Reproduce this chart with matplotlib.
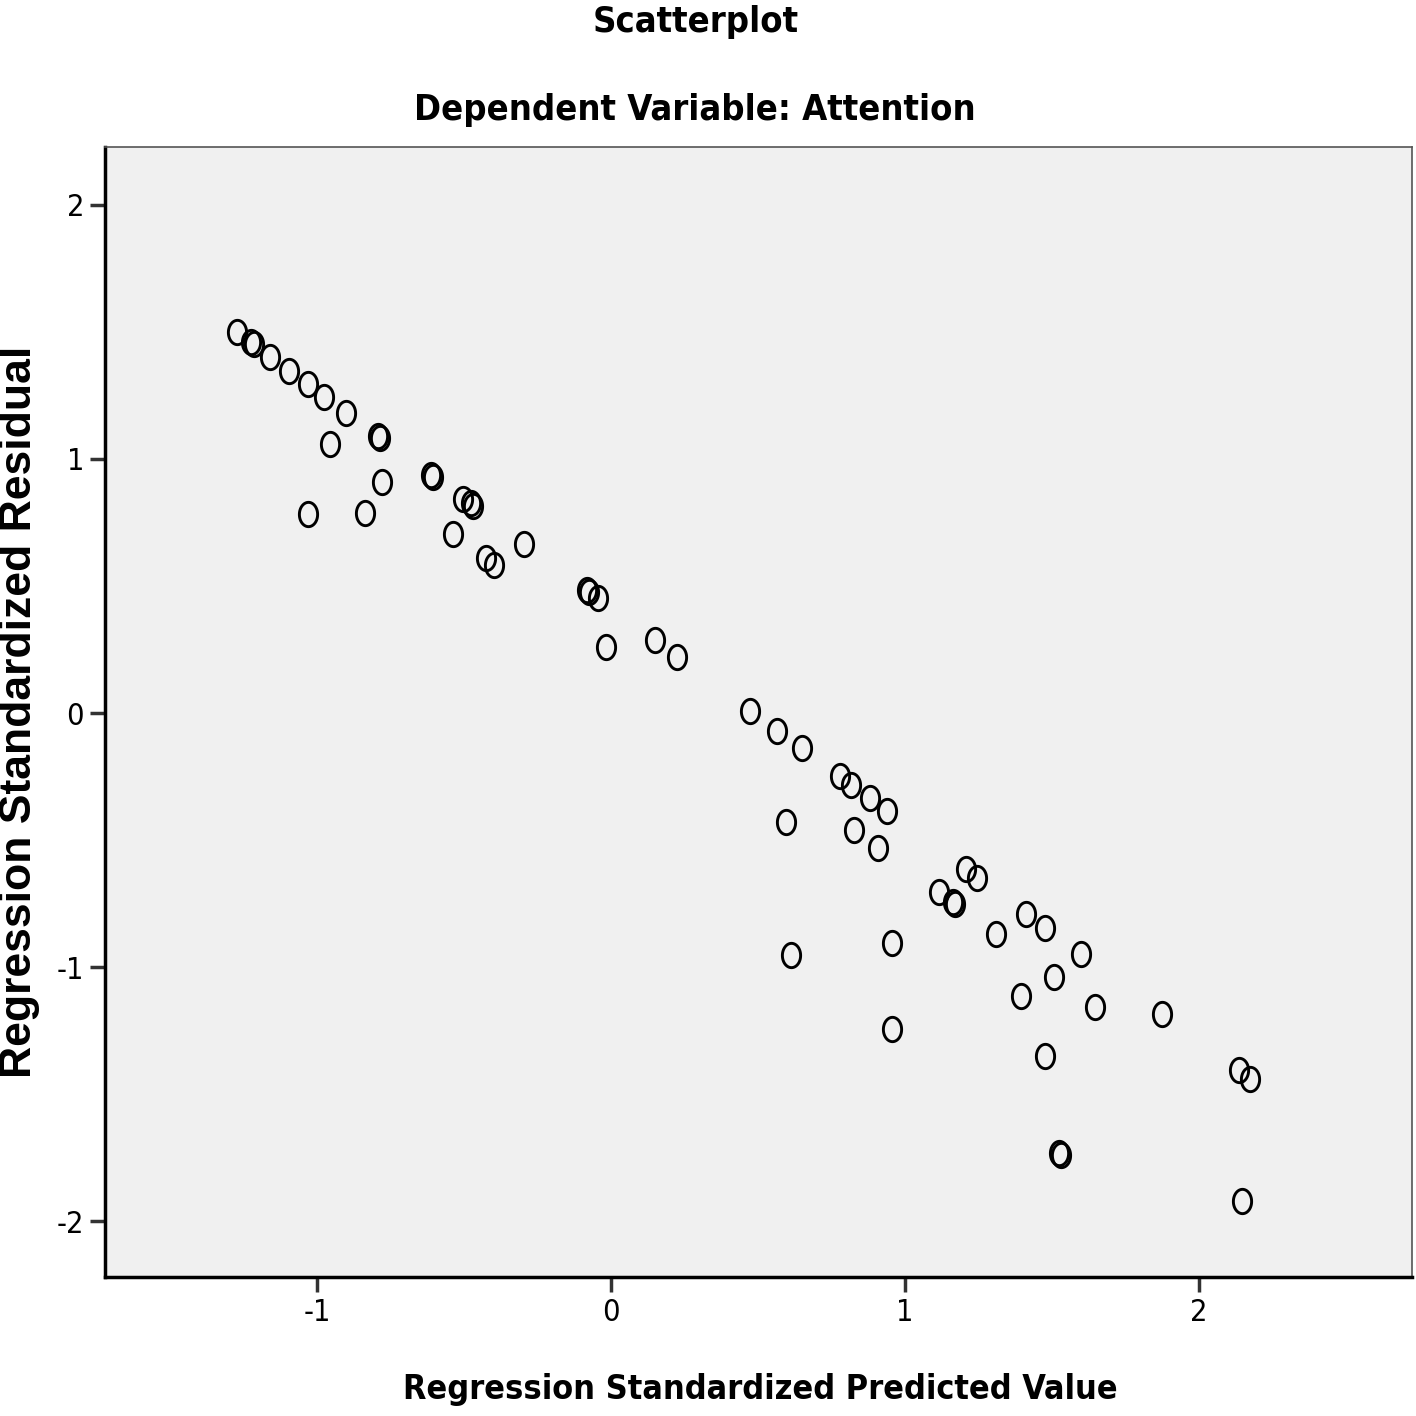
import matplotlib
matplotlib.use("Agg")
import matplotlib.pyplot as plt
from matplotlib.path import Path
import numpy as np

title1 = "Scatterplot"
title2 = "Dependent Variable: Attention"
xlabel = "Regression Standardized Predicted Value"
ylabel = "Regression Standardized Residual"

pred = [-1.272, -1.225, -1.215, -1.160, -1.095, -1.031, -0.976, -0.901, -0.956,
        -0.792, -0.786, -0.779, -1.031, -0.837, -0.612, -0.606, -0.503, -0.476,
        -0.470, -0.537, -0.425, -0.398, -0.296, -0.081, -0.075, -0.044, -0.017,
        0.150, 0.224, 0.473, 0.565, 0.650, 0.779, 0.816, 0.881, 0.939, 0.595,
        0.827, 0.908, 1.207, 1.245, 1.116, 1.163, 1.170, 1.310, 1.412, 1.476,
        0.956, 0.612, 1.599, 1.507, 1.395, 1.646, 1.874, 0.956, 1.476, 2.136,
        2.173, 1.524, 1.530, 2.146]
resid = [1.500, 1.460, 1.452, 1.402, 1.346, 1.295, 1.244, 1.181, 1.059,
         1.091, 1.083, 0.909, 0.783, 0.787, 0.937, 0.929, 0.843, 0.827,
         0.815, 0.705, 0.610, 0.583, 0.665, 0.484, 0.476, 0.453, 0.260,
         0.287, 0.220, 0.008, -0.071, -0.138, -0.248, -0.283, -0.335, -0.386, -0.429,
         -0.461, -0.531, -0.614, -0.650, -0.705, -0.744, -0.752, -0.870, -0.791, -0.846,
         -0.906, -0.953, -0.949, -1.039, -1.114, -1.157, -1.185, -1.244, -1.350, -1.406,
         -1.441, -1.732, -1.740, -1.921]

xticks = [-1, 0, 1, 2]
yticks = [-2, -1, 0, 1, 2]

t = np.linspace(0, 2 * np.pi, 60)
ell = Path(np.column_stack([0.75 * np.cos(t), np.sin(t)]), closed=True)

cond = dict(fontfamily="DejaVu Sans", fontstretch="condensed")

fig = plt.figure(figsize=(14.16, 14.16), dpi=100)
ax = fig.add_axes([105 / 1416, 1 - 1277 / 1416, (1412 - 105) / 1416, (1277 - 147) / 1416])
ax.set_facecolor("#f0f0f0")
ax.plot(pred, resid, linestyle="none", marker=ell, markersize=17.5,
        markerfacecolor="none", markeredgecolor="black", markeredgewidth=2.1)
ax.set_xlim(-1.721, 2.724)
ax.set_ylim(-2.22, 2.228)
ax.set_xticks(xticks)
ax.set_yticks(yticks)
ax.set_xticklabels([str(v) for v in xticks], fontsize=22, **cond)
ax.set_yticklabels([str(v) for v in yticks], fontsize=22, **cond)
ax.tick_params(direction="out", length=11, width=2.5, color="#333333", pad=4)
for s in ["left", "bottom"]:
    ax.spines[s].set_linewidth(2.5)
for s in ["top", "right"]:
    ax.spines[s].set_linewidth(1.2)
    ax.spines[s].set_color("#555555")

fig.text(696 / 1416, 1 - 22 / 1416, title1, ha="center", va="center",
         fontweight="bold", fontsize=26, **cond)
fig.text(695 / 1416, 1 - 110 / 1416, title2, ha="center", va="center",
         fontweight="bold", fontsize=26, **cond)
fig.text(760 / 1416, 1 - 1390 / 1416, xlabel, ha="center", va="center",
         fontweight="bold", fontsize=24.5, **cond)
fig.text(20 / 1416, 1 - 712 / 1416, ylabel, ha="center", va="center", rotation=90,
         fontfamily="Liberation Sans", fontweight="bold", fontsize=32)

fig.savefig("out.png", dpi=100, facecolor="white")
